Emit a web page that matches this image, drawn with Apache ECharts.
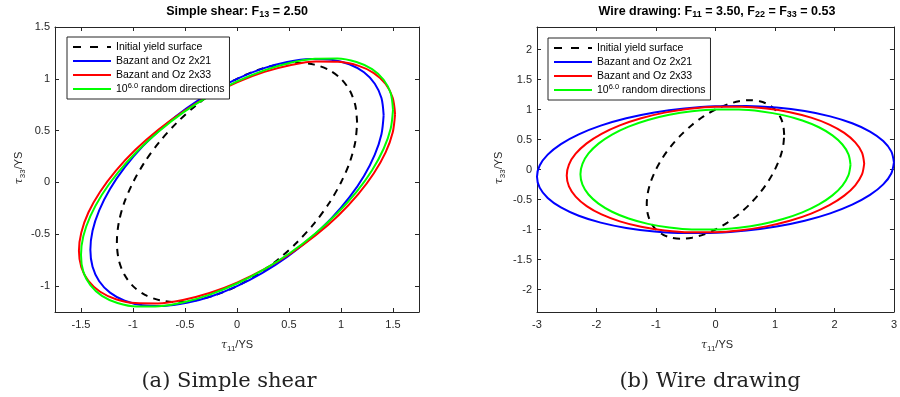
<!DOCTYPE html>
<html>
<head>
<meta charset="utf-8">
<script src="https://cdn.jsdelivr.net/npm/echarts@6/dist/echarts.min.js"></script>
<style>html,body{margin:0;padding:0;background:#fff}#chart{width:900px;height:397px}</style>
</head>
<body>
<div id="chart"></div>
<script>
// ---- Data ----
const seriesNames = ['Initial yield surface', 'Bazant and Oz 2x21', 'Bazant and Oz 2x33', '10^6.0 random directions'];

const initialYield = [[1.155,0.577],[1.138,0.742],[1.086,0.884],[1.000,1.000],[0.885,1.085],[0.743,1.137],[0.578,1.155],[0.395,1.137],[0.201,1.085],[0,1.000],[-0.201,0.885],[-0.395,0.743],[-0.578,0.577],[-0.743,0.395],[-0.885,0.201],[-1.000,0],[-1.086,-0.200],[-1.138,-0.394],[-1.155,-0.577],[-1.138,-0.742],[-1.086,-0.884],[-1.000,-1.000],[-0.885,-1.085],[-0.743,-1.137],[-0.578,-1.155],[-0.395,-1.137],[-0.201,-1.085],[0,-1.000],[0.201,-0.885],[0.395,-0.743],[0.578,-0.577],[0.743,-0.395],[0.885,-0.201],[1.000,0],[1.086,0.200],[1.138,0.394],[1.155,0.577]];

const shearBazant21 = [[1.41,0.65],[1.389,0.814],[1.325,0.953],[1.221,1.063],[1.080,1.141],[0.907,1.184],[0.705,1.191],[0.482,1.162],[0.245,1.098],[0,1.000],[-0.245,0.872],[-0.482,0.718],[-0.705,0.541],[-0.907,0.348],[-1.080,0.145],[-1.221,-0.063],[-1.325,-0.269],[-1.389,-0.466],[-1.41,-0.65],[-1.389,-0.814],[-1.325,-0.953],[-1.221,-1.063],[-1.080,-1.141],[-0.907,-1.184],[-0.705,-1.191],[-0.482,-1.162],[-0.245,-1.098],[0,-1.000],[0.245,-0.872],[0.482,-0.718],[0.705,-0.541],[0.907,-0.348],[1.080,-0.145],[1.221,0.063],[1.325,0.269],[1.389,0.466],[1.41,0.65]];

const shearBazant33 = [[1.52,0.66],[1.497,0.818],[1.429,0.950],[1.316,1.055],[1.164,1.127],[0.977,1.164],[0.760,1.167],[0.520,1.134],[0.264,1.067],[0,0.966],[-0.264,0.837],[-0.520,0.682],[-0.760,0.507],[-0.977,0.316],[-1.164,0.115],[-1.316,-0.089],[-1.429,-0.290],[-1.497,-0.482],[-1.52,-0.66],[-1.497,-0.818],[-1.429,-0.950],[-1.316,-1.055],[-1.164,-1.127],[-0.977,-1.164],[-0.760,-1.167],[-0.520,-1.134],[-0.264,-1.067],[0,-0.966],[0.264,-0.837],[0.520,-0.682],[0.760,-0.507],[0.977,-0.316],[1.164,-0.115],[1.316,0.089],[1.429,0.290],[1.497,0.482],[1.52,0.66]];

const shearRandom = [[1.50,0.70],[1.478,0.860],[1.410,0.991],[1.299,1.094],[1.149,1.163],[0.965,1.197],[0.750,1.194],[0.513,1.156],[0.261,1.082],[0,0.975],[-0.261,0.838],[-0.513,0.678],[-0.750,0.494],[-0.965,0.297],[-1.149,0.091],[-1.299,-0.118],[-1.410,-0.325],[-1.478,-0.520],[-1.50,-0.70],[-1.478,-0.860],[-1.410,-0.991],[-1.299,-1.094],[-1.149,-1.163],[-0.965,-1.197],[-0.750,-1.194],[-0.513,-1.156],[-0.261,-1.082],[0,-0.975],[0.261,-0.838],[0.513,-0.678],[0.750,-0.494],[0.965,-0.297],[1.149,-0.091],[1.299,0.118],[1.410,0.325],[1.478,0.520],[1.50,0.70]];

const wireBazant21 = [[3.0,0.12],[2.955,0.302],[2.820,0.474],[2.598,0.632],[2.298,0.770],[1.929,0.885],[1.500,0.974],[1.026,1.033],[0.522,1.060],[0,1.055],[-0.522,1.018],[-1.026,0.951],[-1.500,0.854],[-1.929,0.731],[-2.298,0.586],[-2.598,0.424],[-2.820,0.248],[-2.955,0.066],[-3.0,-0.12],[-2.955,-0.302],[-2.820,-0.474],[-2.598,-0.632],[-2.298,-0.770],[-1.929,-0.885],[-1.500,-0.974],[-1.026,-1.033],[-0.522,-1.060],[0,-1.055],[0.522,-1.018],[1.026,-0.951],[1.500,-0.854],[1.929,-0.731],[2.298,-0.586],[2.598,-0.424],[2.820,-0.248],[2.955,-0.066],[3.0,0.12]];

const wireBazant33 = [[2.5,0.1],[2.463,0.281],[2.350,0.451],[2.165,0.610],[1.915,0.749],[1.608,0.864],[1.250,0.955],[0.855,1.016],[0.435,1.046],[0,1.045],[-0.435,1.012],[-0.855,0.948],[-1.250,0.855],[-1.608,0.736],[-1.915,0.595],[-2.165,0.436],[-2.350,0.263],[-2.463,0.083],[-2.5,-0.1],[-2.463,-0.281],[-2.350,-0.451],[-2.165,-0.610],[-1.915,-0.749],[-1.608,-0.864],[-1.250,-0.955],[-0.855,-1.016],[-0.435,-1.046],[0,-1.045],[0.435,-1.012],[0.855,-0.948],[1.250,-0.855],[1.608,-0.736],[1.915,-0.595],[2.165,-0.436],[2.350,-0.263],[2.463,-0.083],[2.5,0.1]];

const wireRandom = [[2.27,0.08],[2.236,0.253],[2.134,0.417],[1.966,0.569],[1.739,0.704],[1.460,0.817],[1.135,0.906],[0.776,0.967],[0.395,0.999],[0,1.000],[-0.395,0.971],[-0.776,0.913],[-1.135,0.826],[-1.460,0.715],[-1.739,0.582],[-1.966,0.431],[-2.134,0.267],[-2.236,0.095],[-2.27,-0.08],[-2.236,-0.253],[-2.134,-0.417],[-1.966,-0.569],[-1.739,-0.704],[-1.460,-0.817],[-1.135,-0.906],[-0.776,-0.967],[-0.395,-0.999],[0,-1.000],[0.395,-0.971],[0.776,-0.913],[1.135,-0.826],[1.460,-0.715],[1.739,-0.582],[1.966,-0.431],[2.134,-0.267],[2.236,-0.095],[2.27,0.08]];

// ---- Tick labels ----
const shearXTicks = [-1.5, -1, -0.5, 0, 0.5, 1, 1.5];
const shearYTicks = [-1, -0.5, 0, 0.5, 1, 1.5];
const wireXTicks = [-3, -2, -1, 0, 1, 2, 3];
const wireYTicks = [-2, -1.5, -1, -0.5, 0, 0.5, 1, 1.5, 2];

// ---- Chart ----
const AX = '#262626';
const FONT = 'Liberation Sans';
const colors = ['#000000', '#0000ff', '#ff0000', '#00ff00'];

function axis(kind, grid, min, max, ticks, position, showLabels) {
  return {
    type: 'value', gridIndex: grid, min: min, max: max, position: position,
    axisLine: { show: true, onZero: false, lineStyle: { color: AX, width: 1 } },
    axisTick: { show: true, inside: true, length: 4, customValues: ticks, lineStyle: { color: AX } },
    axisLabel: { show: showLabels, customValues: ticks, margin: kind === 'x' ? 7 : 5,
      fontFamily: FONT, fontSize: 11, color: AX },
    splitLine: { show: false }
  };
}

function mkSeries(grid, datasets) {
  return datasets.map((d, i) => ({
    name: seriesNames[i], type: 'line', xAxisIndex: grid * 2, yAxisIndex: grid * 2,
    data: d, symbol: 'none', showSymbol: false, animation: false, clip: true, smooth: 0.3,
    lineStyle: { color: colors[i], width: 2, type: i === 0 ? [7, 6] : 'solid' },
    itemStyle: { color: colors[i] }, z: 2 + i
  }));
}

function mkLegend(left, top) {
  return {
    orient: 'vertical', left: left, top: top, selectedMode: false,
    data: seriesNames.map((n, i) => i === 0 ? { name: n, lineStyle: { type: [8, 9] } } : n),
    padding: [3, 5, 3, 5], itemGap: 0, itemWidth: 38, itemHeight: 14, itemTextGap: 0,
    itemStyle: { opacity: 0, borderWidth: 0 },
    backgroundColor: '#fff', borderColor: AX, borderWidth: 1, borderRadius: 0, z: 10,
    textStyle: { fontFamily: FONT, fontSize: 10.5, color: '#000', lineHeight: 14,
      rich: { sup: { fontFamily: FONT, fontSize: 7.5, lineHeight: 8, verticalAlign: 'top', color: '#000' } } },
    formatter: n => n === seriesNames[3] ? '10{sup|6.0} random directions' : n
  };
}

function titleText(x, parts) {
  return { type: 'text', x: x, y: 5, z: 20,
    style: { text: parts, align: 'center', verticalAlign: 'top', fill: '#000',
      rich: {
        b: { fontFamily: FONT, fontSize: 12.5, fontWeight: 'bold', lineHeight: 14, verticalAlign: 'top', fill: '#000' },
        s: { fontFamily: FONT, fontSize: 9, fontWeight: 'bold', lineHeight: 9, padding: [8, 0, 0, 0], verticalAlign: 'bottom', fill: '#000' }
      } } };
}

const labelRich = {
  t: { fontFamily: 'DejaVu Serif', fontStyle: 'italic', fontSize: 11, lineHeight: 13, verticalAlign: 'top', fill: AX },
  n: { fontFamily: FONT, fontSize: 11, lineHeight: 13, verticalAlign: 'top', fill: AX },
  s: { fontFamily: FONT, fontSize: 8, lineHeight: 8, padding: [8, 0, 0, 0], verticalAlign: 'bottom', fill: AX }
};

function axisName(x, y, sub, rot) {
  return { type: 'text', x: x, y: y, rotation: rot, z: 20,
    style: { text: '{t|τ}{s|' + sub + '}{n|/YS}', align: 'center', verticalAlign: 'middle', rich: labelRich } };
}

function caption(x, text) {
  return { type: 'text', x: x, y: 382, z: 20,
    style: { text: text, align: 'center', verticalAlign: 'middle', fill: '#222',
      font: '21px "DejaVu Serif"' } };
}

const option = {
  animation: false,
  backgroundColor: '#fff',
  grid: [
    { left: 55, top: 27, width: 364, height: 285, containLabel: false },
    { left: 537, top: 27, width: 360, height: 285, containLabel: false }
  ],
  xAxis: [
    axis('x', 0, -1.75, 1.75, shearXTicks, 'bottom', true),
    axis('x', 0, -1.75, 1.75, shearXTicks, 'top', false),
    axis('x', 1, -3, 3, wireXTicks, 'bottom', true),
    axis('x', 1, -3, 3, wireXTicks, 'top', false)
  ],
  yAxis: [
    axis('y', 0, -1.25, 1.5, shearYTicks, 'left', true),
    axis('y', 0, -1.25, 1.5, shearYTicks, 'right', false),
    axis('y', 1, -2.375, 2.375, wireYTicks, 'left', true),
    axis('y', 1, -2.375, 2.375, wireYTicks, 'right', false)
  ],
  legend: [mkLegend(67, 37), mkLegend(548, 38)],
  series: mkSeries(0, [initialYield, shearBazant21, shearBazant33, shearRandom])
    .concat(mkSeries(1, [initialYield, wireBazant21, wireBazant33, wireRandom])),
  graphic: [
    titleText(237, '{b|Simple shear: F}{s|13}{b| = 2.50}'),
    titleText(717, '{b|Wire drawing: F}{s|11}{b| = 3.50, F}{s|22}{b| = F}{s|33}{b| = 0.53}'),
    axisName(237, 346, '11', 0),
    axisName(20, 168, '33', Math.PI / 2),
    axisName(717, 346, '11', 0),
    axisName(500, 168, '33', Math.PI / 2),
    caption(229, '(a) Simple shear'),
    caption(710, '(b) Wire drawing')
  ]
};

const chart = echarts.init(document.getElementById('chart'), null, { renderer: 'canvas' });
chart.setOption(option);
</script>
</body>
</html>
